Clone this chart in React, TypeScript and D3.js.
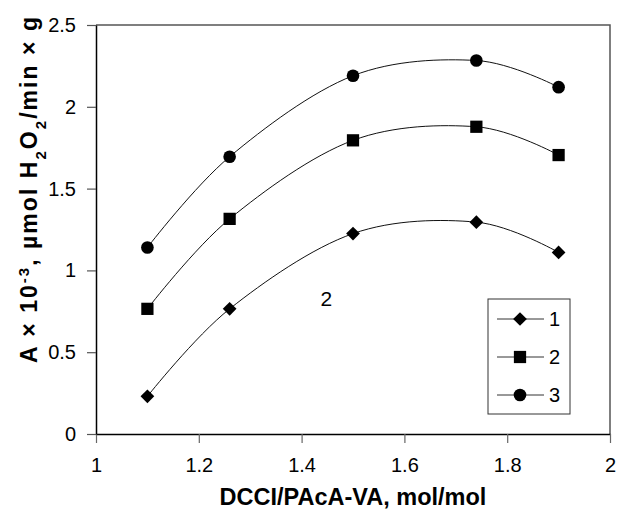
import React, { useEffect, useRef } from 'react';
import * as d3 from 'd3';

// DCCI/PAcA-VA ratio, mol/mol
const ratios = [1.1, 1.26, 1.5, 1.74, 1.9];

// activity series (A x 10^-3)
const series1 = [0.23, 0.765, 1.225, 1.295, 1.11];
const series2 = [0.765, 1.315, 1.795, 1.878, 1.705];
const series3 = [1.14, 1.695, 2.19, 2.283, 2.12];

const seriesNames = ['1', '2', '3'];
const markerTypes = ['diamond', 'square', 'circle'];

const xTicks = [1, 1.2, 1.4, 1.6, 1.8, 2];
const yTicks = [0, 0.5, 1, 1.5, 2, 2.5];

const W = 617;
const H = 510;

export default function App() {
  const ref = useRef<SVGSVGElement>(null);

  useEffect(() => {
    const svg = d3.select(ref.current);
    svg.selectAll('*').remove();

    const margin = { top: 25, right: 7, bottom: 76, left: 96 };
    const width = W - margin.left - margin.right;
    const height = H - margin.top - margin.bottom;

    const x = d3.scaleLinear().domain([1, 2]).range([0, width]);
    const y = d3.scaleLinear().domain([0, 2.5]).range([height, 0]);

    const g = svg.append('g')
      .attr('transform', 'translate(' + margin.left + ',' + margin.top + ')');

    // plot area frame (top and right)
    g.append('path')
      .attr('d', `M0,0H${width}V${height}`)
      .attr('fill', 'none')
      .attr('stroke', '#555')
      .attr('stroke-width', 1.5);

    // x axis
    const xAxis = g.append('g')
      .attr('transform', 'translate(0,' + height + ')')
      .call(d3.axisBottom(x).tickValues(xTicks).tickSize(9).tickSizeOuter(0).tickFormat(d3.format('')));
    xAxis.select('.domain').attr('stroke', '#000').attr('stroke-width', 1.5);
    xAxis.selectAll('line').attr('stroke', '#666').attr('stroke-width', 1.2);
    xAxis.selectAll('text')
      .attr('font-family', 'Liberation Sans, Arial, sans-serif')
      .attr('font-size', 20)
      .attr('fill', '#000')
      .attr('y', 24);

    // y axis
    const yAxis = g.append('g')
      .call(d3.axisLeft(y).tickValues(yTicks).tickSize(9).tickSizeOuter(0).tickFormat(d3.format('')));
    yAxis.select('.domain').attr('stroke', '#000').attr('stroke-width', 1.5);
    yAxis.selectAll('line').attr('stroke', '#555').attr('stroke-width', 1.2);
    yAxis.selectAll('text')
      .attr('font-family', 'Liberation Sans, Arial, sans-serif')
      .attr('font-size', 20)
      .attr('fill', '#000')
      .attr('x', -20);

    const line = d3.line<number>()
      .x((d, i) => x(ratios[i]))
      .y(d => y(d))
      .curve(d3.curveCardinal.tension(0));

    const symbols: any = {
      diamond: d3.symbol().type(d3.symbolDiamond2).size(120),
      square: d3.symbol().type(d3.symbolSquare).size(150),
      circle: d3.symbol().type(d3.symbolCircle).size(125),
    };

    const allSeries = [series1, series2, series3];

    allSeries.forEach((vals, si) => {
      g.append('path')
        .datum(vals)
        .attr('d', line)
        .attr('fill', 'none')
        .attr('stroke', '#111')
        .attr('stroke-width', 1);

      g.selectAll('.m' + si)
        .data(vals)
        .enter()
        .append('path')
        .attr('class', 'm' + si)
        .attr('d', symbols[markerTypes[si]]())
        .attr('transform', (d, i) => 'translate(' + x(ratios[i]) + ',' + y(d) + ')')
        .attr('fill', '#000');
    });

    // stray "2" label on the plot
    g.append('text')
      .attr('x', x(1.448))
      .attr('y', y(0.83) + 8)
      .attr('text-anchor', 'middle')
      .attr('font-family', 'Liberation Sans, Arial, sans-serif')
      .attr('font-size', 21)
      .text('2');

    // legend
    const legend = g.append('g')
      .attr('transform', 'translate(' + (488 - margin.left) + ',' + (299 - margin.top) + ')');
    legend.append('rect')
      .attr('width', 82)
      .attr('height', 115)
      .attr('fill', '#fff')
      .attr('stroke', '#333')
      .attr('stroke-width', 1);

    seriesNames.forEach((name, i) => {
      const row = legend.append('g')
        .attr('transform', 'translate(0,' + (20 + i * 38) + ')');
      row.append('line')
        .attr('x1', 9).attr('x2', 56)
        .attr('stroke', '#333')
        .attr('stroke-width', 1);
      row.append('path')
        .attr('d', symbols[markerTypes[i]]())
        .attr('transform', 'translate(32,0)')
        .attr('fill', '#000');
      row.append('text')
        .attr('x', 61)
        .attr('y', 7)
        .attr('font-family', 'Liberation Sans, Arial, sans-serif')
        .attr('font-size', 20)
        .text(name);
    });

    // x title
    svg.append('text')
      .attr('x', margin.left + width / 2)
      .attr('y', 505)
      .attr('text-anchor', 'middle')
      .attr('font-family', 'Liberation Sans, Arial, sans-serif')
      .attr('font-weight', 'bold')
      .attr('font-size', 23.5)
      .text('DCCI/PAcA-VA, mol/mol');

    // y title
    const yTitle = svg.append('text')
      .attr('transform', 'translate(37,190) rotate(-90)')
      .attr('text-anchor', 'middle')
      .attr('font-family', 'Liberation Sans, Arial, sans-serif')
      .attr('font-weight', 'bold')
      .attr('font-size', 23)
      .attr('textLength', 346)
      .attr('lengthAdjust', 'spacing');
    yTitle.append('tspan').text('A × 10');
    yTitle.append('tspan').attr('baseline-shift', 'super').attr('font-size', 15).text('-3');
    yTitle.append('tspan').text(', µmol H');
    yTitle.append('tspan').attr('baseline-shift', 'sub').attr('font-size', 15).text('2');
    yTitle.append('tspan').text('O');
    yTitle.append('tspan').attr('baseline-shift', 'sub').attr('font-size', 15).text('2');
    yTitle.append('tspan').text('/min × g');
  }, []);

  return (
    <svg
      ref={ref}
      width={W}
      height={H}
      style={{ position: 'absolute', left: 0, top: 0, background: '#fff' }}
    />
  );
}
